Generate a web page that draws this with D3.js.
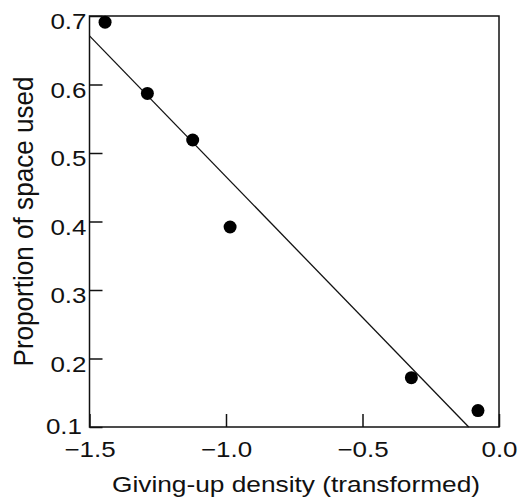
<!DOCTYPE html>
<html>
<head>
<meta charset="utf-8">
<script src="https://cdn.jsdelivr.net/npm/d3@7"></script>
<style>
  body { margin: 0; background: #fff; }
  text { font-family: "Liberation Sans", Arial, sans-serif; fill: #111; }
</style>
</head>
<body>
<div id="chart"></div>
<script>
// points
var gudX = [-1.443, -1.288, -1.122, -0.985, -0.321, -0.077];
var spaceUsed = [0.691, 0.587, 0.519, 0.392, 0.172, 0.124];

// fitted line, start and end as drawn
var fitX = [-1.5, -0.111];
var fitY = [0.671, 0.1];

var xTicks = [-1.5, -1.0, -0.5, 0.0];
var yTicks = [0.1, 0.2, 0.3, 0.4, 0.5, 0.6, 0.7];

var xTitle = "Giving-up density (transformed)";
var yTitle = "Proportion of space used";

var W = 522, H = 502;
// plot box (window.top is taken, so pLeft etc)
var pLeft = 89.5, pRight = 499, pTop = 16, pBottom = 427;
var stretch = 1.18; // the lettering in the figure is wider than Arial

var x = d3.scaleLinear().domain([-1.5, 0]).range([pLeft, pRight]);
var y = d3.scaleLinear().domain([0.1, 0.7]).range([pBottom, pTop]);

var svg = d3.select("#chart")
	.append("svg")
	.attr("width", W)
	.attr("height", H);

// frame
svg.append("rect")
	.attr("x", pLeft)
	.attr("y", pTop)
	.attr("width", pRight - pLeft)
	.attr("height", pBottom - pTop)
	.style("fill", "none")
	.style("stroke", "#111")
	.style("stroke-width", 1.5);

var fmt = function(d) { return d3.format(".1f")(d); };

var xAxis = svg.append("g")
	.attr("transform", "translate(0," + pBottom + ")")
	.call(d3.axisBottom(x).tickValues(xTicks).tickFormat(fmt).tickSizeInner(-13).tickSizeOuter(0));

var yAxis = svg.append("g")
	.attr("transform", "translate(" + pLeft + ",0)")
	.call(d3.axisLeft(y).tickValues(yTicks).tickFormat(fmt).tickSizeInner(-13).tickSizeOuter(0));

[xAxis, yAxis].forEach(function(g) {
	g.select(".domain").remove();
	g.selectAll(".tick line").style("stroke", "#111").style("stroke-width", 1.5);
	g.attr("font-size", null).attr("font-family", null);
	g.selectAll("text").style("font-size", "22px").attr("fill", "#111");
});

xAxis.selectAll(".tick text")
	.attr("y", 30)
	.attr("dy", 0)
	.attr("transform", "scale(" + stretch + ",1)");

// 0.1 sits a little left and higher so it clears -1.5
yAxis.selectAll(".tick text")
	.attr("x", function(d) { return (d === 0.1 ? -7.5 : -3) / stretch; })
	.attr("y", function(d) { return d === 0.1 ? 6 : 12.5; })
	.attr("dy", 0)
	.attr("transform", "scale(" + stretch + ",1)");

// regression line
svg.append("line")
	.attr("x1", x(fitX[0]))
	.attr("y1", y(fitY[0]))
	.attr("x2", x(fitX[1]))
	.attr("y2", y(fitY[1]))
	.style("stroke", "#111")
	.style("stroke-width", 1.3);

// points
svg.selectAll(".dot")
	.data(gudX)
	.enter().append("circle")
	.attr("class", "dot")
	.attr("cx", function(d) { return x(d); })
	.attr("cy", function(d, i) { return y(spaceUsed[i]); })
	.attr("r", 6.5)
	.style("fill", "#000");

// axis titles
svg.append("text")
	.attr("x", 296)
	.attr("y", 492)
	.attr("text-anchor", "middle")
	.attr("textLength", 368)
	.attr("lengthAdjust", "spacingAndGlyphs")
	.style("font-size", "22px")
	.text(xTitle);

svg.append("text")
	.attr("transform", "translate(33," + (pTop + pBottom) / 2 + ") rotate(-90)")
	.attr("text-anchor", "middle")
	.attr("textLength", 290)
	.attr("lengthAdjust", "spacingAndGlyphs")
	.style("font-size", "28px")
	.text(yTitle);
</script>
</body>
</html>
